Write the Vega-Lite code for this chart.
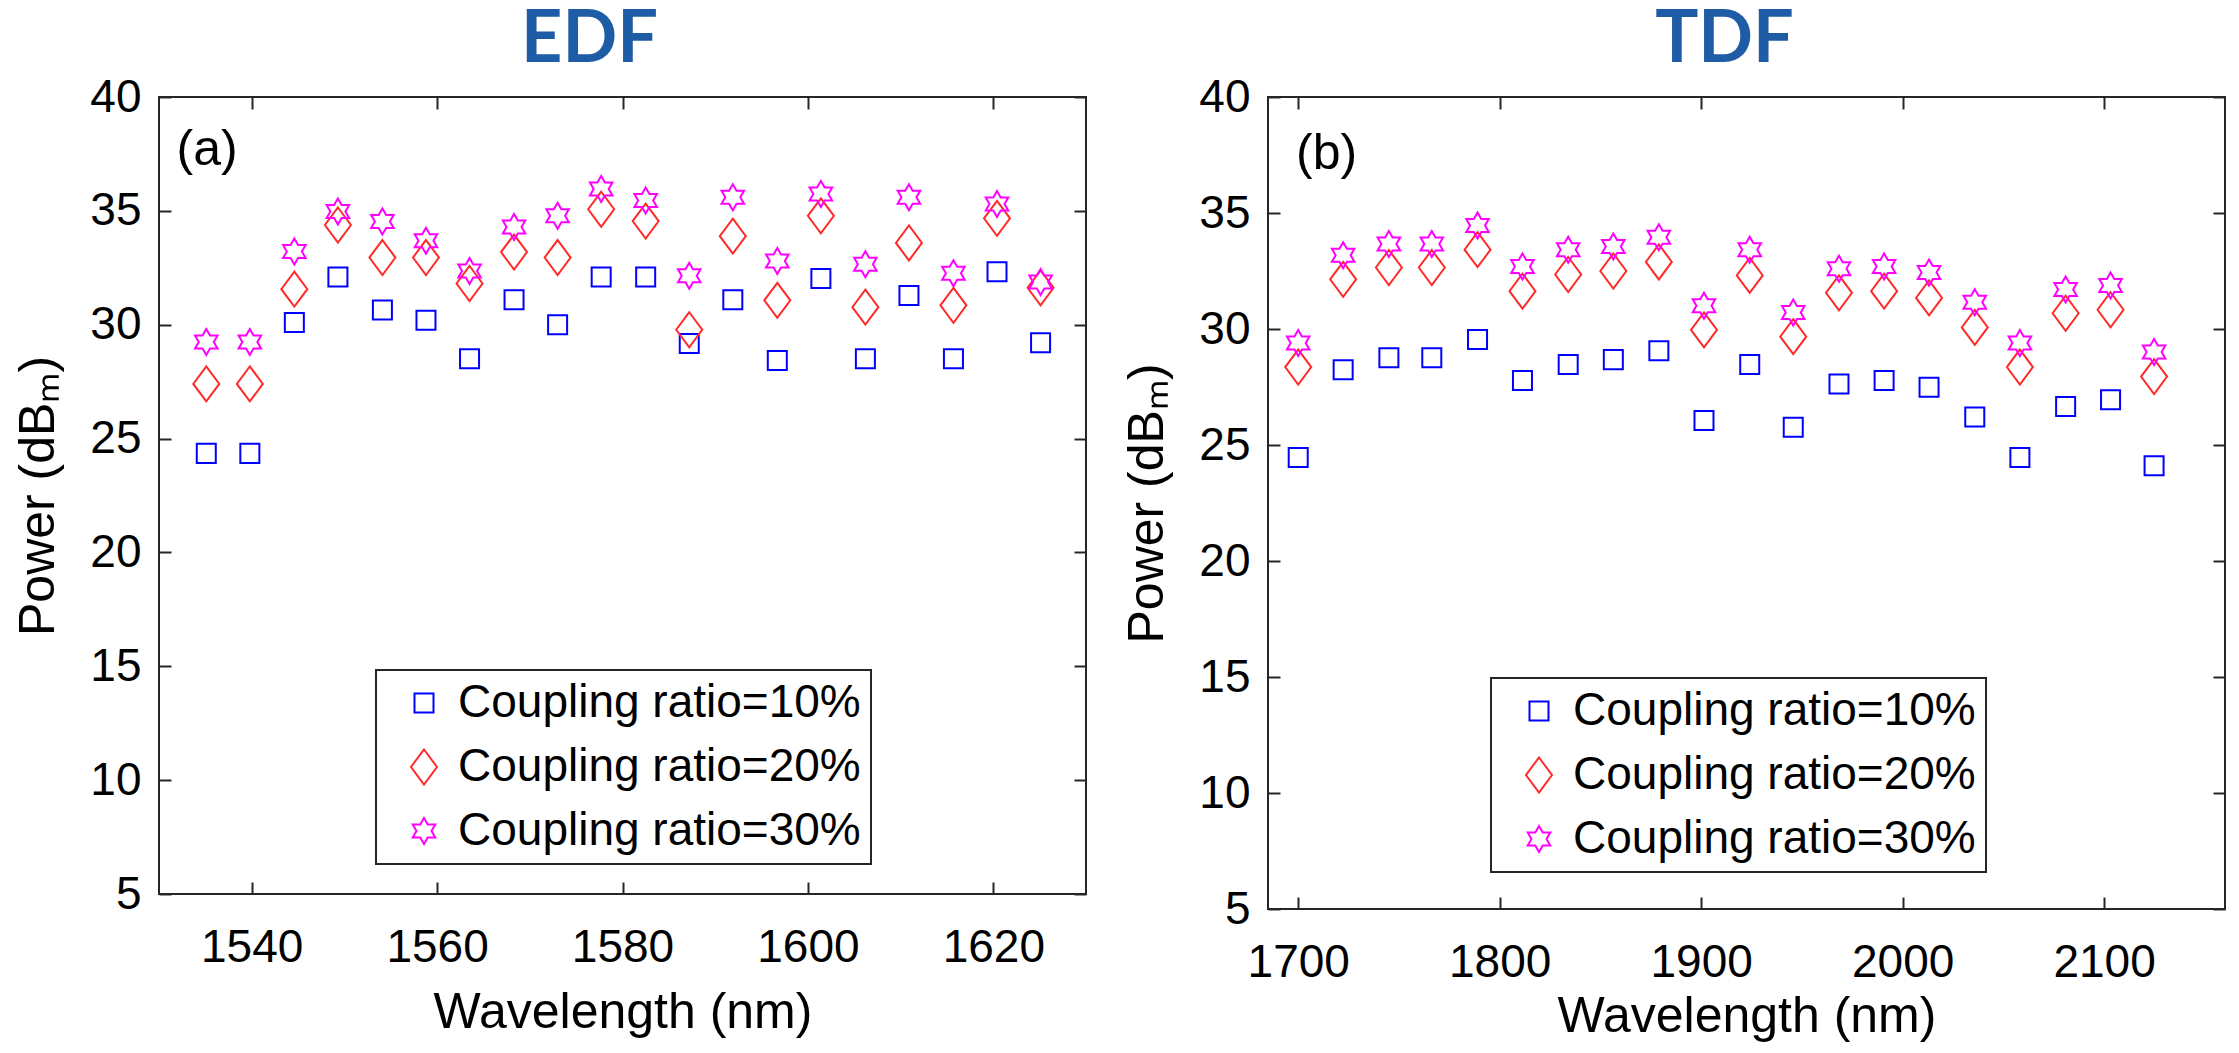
{
  "$schema": "https://vega.github.io/schema/vega-lite/v6.json",
  "background": "white",
  "padding": {"left": 12, "top": 2, "right": 4, "bottom": 0},
  "spacing": 33,
  "config": {
    "font": "Liberation Sans",
    "view": {"stroke": "#262626", "strokeWidth": 2},
    "axis": {
      "grid": false,
      "domain": false,
      "offset": -12,
      "tickSize": 12,
      "tickWidth": 2,
      "tickColor": "#262626",
      "labelFont": "Liberation Sans",
      "labelFontSize": 46,
      "labelColor": "black",
      "labelOverlap": false,
      "labelFlush": false,
      "titleFont": "Liberation Sans",
      "titleFontSize": 50,
      "titleFontWeight": "normal",
      "titleColor": "black"
    },
    "axisX": {"labelPadding": 31, "titlePadding": 17, "format": "d"},
    "axisY": {"labelPadding": 18, "titlePadding": 26},
    "legend": {"strokeWidth": 2},
    "title": {"font": "Lato", "fontSize": 72, "fontWeight": "bold", "color": "#1f5ca6", "anchor": "middle", "baseline": "alphabetic"}
  },
  "datasets": {
    "edf": [
      {"wl": 1535.1, "p": 24.35, "s": "Coupling ratio=10%"},
      {"wl": 1539.8, "p": 24.35, "s": "Coupling ratio=10%"},
      {"wl": 1544.6, "p": 30.1, "s": "Coupling ratio=10%"},
      {"wl": 1549.3, "p": 32.1, "s": "Coupling ratio=10%"},
      {"wl": 1554.1, "p": 30.65, "s": "Coupling ratio=10%"},
      {"wl": 1558.8, "p": 30.2, "s": "Coupling ratio=10%"},
      {"wl": 1563.5, "p": 28.5, "s": "Coupling ratio=10%"},
      {"wl": 1568.3, "p": 31.1, "s": "Coupling ratio=10%"},
      {"wl": 1573.0, "p": 30.0, "s": "Coupling ratio=10%"},
      {"wl": 1577.7, "p": 32.1, "s": "Coupling ratio=10%"},
      {"wl": 1582.5, "p": 32.1, "s": "Coupling ratio=10%"},
      {"wl": 1587.2, "p": 29.18, "s": "Coupling ratio=10%"},
      {"wl": 1591.9, "p": 31.1, "s": "Coupling ratio=10%"},
      {"wl": 1596.7, "p": 28.43, "s": "Coupling ratio=10%"},
      {"wl": 1601.4, "p": 32.03, "s": "Coupling ratio=10%"},
      {"wl": 1606.2, "p": 28.5, "s": "Coupling ratio=10%"},
      {"wl": 1610.9, "p": 31.28, "s": "Coupling ratio=10%"},
      {"wl": 1615.7, "p": 28.5, "s": "Coupling ratio=10%"},
      {"wl": 1620.4, "p": 32.33, "s": "Coupling ratio=10%"},
      {"wl": 1625.1, "p": 29.21, "s": "Coupling ratio=10%"},
      {"wl": 1535.1, "p": 27.4, "s": "Coupling ratio=20%"},
      {"wl": 1539.8, "p": 27.4, "s": "Coupling ratio=20%"},
      {"wl": 1544.6, "p": 31.56, "s": "Coupling ratio=20%"},
      {"wl": 1549.3, "p": 34.38, "s": "Coupling ratio=20%"},
      {"wl": 1554.1, "p": 32.95, "s": "Coupling ratio=20%"},
      {"wl": 1558.8, "p": 32.95, "s": "Coupling ratio=20%"},
      {"wl": 1563.5, "p": 31.81, "s": "Coupling ratio=20%"},
      {"wl": 1568.3, "p": 33.19, "s": "Coupling ratio=20%"},
      {"wl": 1573.0, "p": 32.95, "s": "Coupling ratio=20%"},
      {"wl": 1577.7, "p": 35.07, "s": "Coupling ratio=20%"},
      {"wl": 1582.5, "p": 34.55, "s": "Coupling ratio=20%"},
      {"wl": 1587.2, "p": 29.78, "s": "Coupling ratio=20%"},
      {"wl": 1591.9, "p": 33.89, "s": "Coupling ratio=20%"},
      {"wl": 1596.7, "p": 31.07, "s": "Coupling ratio=20%"},
      {"wl": 1601.4, "p": 34.78, "s": "Coupling ratio=20%"},
      {"wl": 1606.2, "p": 30.77, "s": "Coupling ratio=20%"},
      {"wl": 1610.9, "p": 33.59, "s": "Coupling ratio=20%"},
      {"wl": 1615.7, "p": 30.85, "s": "Coupling ratio=20%"},
      {"wl": 1620.4, "p": 34.67, "s": "Coupling ratio=20%"},
      {"wl": 1625.1, "p": 31.62, "s": "Coupling ratio=20%"},
      {"wl": 1535.1, "p": 29.24, "s": "Coupling ratio=30%"},
      {"wl": 1539.8, "p": 29.24, "s": "Coupling ratio=30%"},
      {"wl": 1544.6, "p": 33.22, "s": "Coupling ratio=30%"},
      {"wl": 1549.3, "p": 34.97, "s": "Coupling ratio=30%"},
      {"wl": 1554.1, "p": 34.53, "s": "Coupling ratio=30%"},
      {"wl": 1558.8, "p": 33.69, "s": "Coupling ratio=30%"},
      {"wl": 1563.5, "p": 32.36, "s": "Coupling ratio=30%"},
      {"wl": 1568.3, "p": 34.29, "s": "Coupling ratio=30%"},
      {"wl": 1573.0, "p": 34.78, "s": "Coupling ratio=30%"},
      {"wl": 1577.7, "p": 35.96, "s": "Coupling ratio=30%"},
      {"wl": 1582.5, "p": 35.45, "s": "Coupling ratio=30%"},
      {"wl": 1587.2, "p": 32.15, "s": "Coupling ratio=30%"},
      {"wl": 1591.9, "p": 35.6, "s": "Coupling ratio=30%"},
      {"wl": 1596.7, "p": 32.8, "s": "Coupling ratio=30%"},
      {"wl": 1601.4, "p": 35.74, "s": "Coupling ratio=30%"},
      {"wl": 1606.2, "p": 32.66, "s": "Coupling ratio=30%"},
      {"wl": 1610.9, "p": 35.6, "s": "Coupling ratio=30%"},
      {"wl": 1615.7, "p": 32.26, "s": "Coupling ratio=30%"},
      {"wl": 1620.4, "p": 35.3, "s": "Coupling ratio=30%"},
      {"wl": 1625.1, "p": 31.88, "s": "Coupling ratio=30%"}
    ],
    "tdf": [
      {"wl": 1700.0, "p": 24.46, "s": "Coupling ratio=10%"},
      {"wl": 1722.3, "p": 28.24, "s": "Coupling ratio=10%"},
      {"wl": 1745.0, "p": 28.76, "s": "Coupling ratio=10%"},
      {"wl": 1766.3, "p": 28.76, "s": "Coupling ratio=10%"},
      {"wl": 1789.0, "p": 29.55, "s": "Coupling ratio=10%"},
      {"wl": 1811.3, "p": 27.78, "s": "Coupling ratio=10%"},
      {"wl": 1834.0, "p": 28.47, "s": "Coupling ratio=10%"},
      {"wl": 1856.4, "p": 28.68, "s": "Coupling ratio=10%"},
      {"wl": 1879.0, "p": 29.06, "s": "Coupling ratio=10%"},
      {"wl": 1901.4, "p": 26.06, "s": "Coupling ratio=10%"},
      {"wl": 1924.1, "p": 28.47, "s": "Coupling ratio=10%"},
      {"wl": 1945.7, "p": 25.77, "s": "Coupling ratio=10%"},
      {"wl": 1968.4, "p": 27.63, "s": "Coupling ratio=10%"},
      {"wl": 1990.8, "p": 27.78, "s": "Coupling ratio=10%"},
      {"wl": 2013.1, "p": 27.49, "s": "Coupling ratio=10%"},
      {"wl": 2035.8, "p": 26.21, "s": "Coupling ratio=10%"},
      {"wl": 2058.2, "p": 24.46, "s": "Coupling ratio=10%"},
      {"wl": 2080.9, "p": 26.66, "s": "Coupling ratio=10%"},
      {"wl": 2103.2, "p": 26.95, "s": "Coupling ratio=10%"},
      {"wl": 2124.8, "p": 24.11, "s": "Coupling ratio=10%"},
      {"wl": 1700.0, "p": 28.36, "s": "Coupling ratio=20%"},
      {"wl": 1722.3, "p": 32.14, "s": "Coupling ratio=20%"},
      {"wl": 1745.0, "p": 32.65, "s": "Coupling ratio=20%"},
      {"wl": 1766.3, "p": 32.65, "s": "Coupling ratio=20%"},
      {"wl": 1789.0, "p": 33.42, "s": "Coupling ratio=20%"},
      {"wl": 1811.3, "p": 31.63, "s": "Coupling ratio=20%"},
      {"wl": 1834.0, "p": 32.35, "s": "Coupling ratio=20%"},
      {"wl": 1856.4, "p": 32.5, "s": "Coupling ratio=20%"},
      {"wl": 1879.0, "p": 32.89, "s": "Coupling ratio=20%"},
      {"wl": 1901.4, "p": 29.96, "s": "Coupling ratio=20%"},
      {"wl": 1924.1, "p": 32.31, "s": "Coupling ratio=20%"},
      {"wl": 1945.7, "p": 29.67, "s": "Coupling ratio=20%"},
      {"wl": 1968.4, "p": 31.56, "s": "Coupling ratio=20%"},
      {"wl": 1990.8, "p": 31.63, "s": "Coupling ratio=20%"},
      {"wl": 2013.1, "p": 31.34, "s": "Coupling ratio=20%"},
      {"wl": 2035.8, "p": 30.07, "s": "Coupling ratio=20%"},
      {"wl": 2058.2, "p": 28.36, "s": "Coupling ratio=20%"},
      {"wl": 2080.9, "p": 30.68, "s": "Coupling ratio=20%"},
      {"wl": 2103.2, "p": 30.83, "s": "Coupling ratio=20%"},
      {"wl": 2124.8, "p": 27.95, "s": "Coupling ratio=20%"},
      {"wl": 1700.0, "p": 29.4, "s": "Coupling ratio=30%"},
      {"wl": 1722.3, "p": 33.18, "s": "Coupling ratio=30%"},
      {"wl": 1745.0, "p": 33.66, "s": "Coupling ratio=30%"},
      {"wl": 1766.3, "p": 33.66, "s": "Coupling ratio=30%"},
      {"wl": 1789.0, "p": 34.46, "s": "Coupling ratio=30%"},
      {"wl": 1811.3, "p": 32.69, "s": "Coupling ratio=30%"},
      {"wl": 1834.0, "p": 33.42, "s": "Coupling ratio=30%"},
      {"wl": 1856.4, "p": 33.56, "s": "Coupling ratio=30%"},
      {"wl": 1879.0, "p": 33.95, "s": "Coupling ratio=30%"},
      {"wl": 1901.4, "p": 31.0, "s": "Coupling ratio=30%"},
      {"wl": 1924.1, "p": 33.42, "s": "Coupling ratio=30%"},
      {"wl": 1945.7, "p": 30.71, "s": "Coupling ratio=30%"},
      {"wl": 1968.4, "p": 32.6, "s": "Coupling ratio=30%"},
      {"wl": 1990.8, "p": 32.69, "s": "Coupling ratio=30%"},
      {"wl": 2013.1, "p": 32.43, "s": "Coupling ratio=30%"},
      {"wl": 2035.8, "p": 31.15, "s": "Coupling ratio=30%"},
      {"wl": 2058.2, "p": 29.4, "s": "Coupling ratio=30%"},
      {"wl": 2080.9, "p": 31.7, "s": "Coupling ratio=30%"},
      {"wl": 2103.2, "p": 31.88, "s": "Coupling ratio=30%"},
      {"wl": 2124.8, "p": 29.01, "s": "Coupling ratio=30%"}
    ]
  },
  "resolve": {
    "scale": {"x": "independent", "y": "independent", "color": "independent", "shape": "independent"},
    "legend": {"color": "independent", "shape": "independent"}
  },
  "hconcat": [
    {
      "width": 927,
      "height": 797,
      "title": {"text": "EDF", "dx": -33, "offset": -2.5},
      "resolve": {"axis": {"x": "independent", "y": "independent"}},
      "layer": [
        {
          "data": {"name": "edf"},
          "mark": {"type": "point", "filled": false, "strokeWidth": 2, "size": 1225, "opacity": 1},
          "encoding": {
            "x": {"field": "wl", "type": "quantitative", "scale": {"domain": [1530, 1630], "nice": false, "zero": false}, "axis": {"orient": "bottom", "values": [1540, 1560, 1580, 1600, 1620], "title": "Wavelength (nm)"}},
            "y": {"field": "p", "type": "quantitative", "scale": {"domain": [5, 40], "nice": false, "zero": false}, "axis": {"orient": "left", "values": [5, 10, 15, 20, 25, 30, 35, 40], "title": "Power (dBₘ)"}},
            "color": {"field": "s", "type": "nominal", "scale": {"range": ["#0000ff", "#ff2b2b", "#ff00ff"]},
              "legend": {"title": null, "orient": "none", "legendX": 217, "legendY": 573, "symbolSize": 1225, "symbolStrokeWidth": 2, "labelFontSize": 46, "labelFont": "Liberation Sans", "labelColor": "black", "padding": 10, "rowPadding": 18, "symbolOffset": 15, "labelOffset": 11, "strokeColor": "#262626", "fillColor": "white", "labelLimit": 1000}},
            "shape": {"field": "s", "type": "nominal", "scale": {"range": [
              "M-0.543,-0.543L0.543,-0.543L0.543,0.543L-0.543,0.543Z",
              "M0,-1L0.743,0L0,1L-0.743,0Z",
              "M0,-0.743L0.2145,-0.3715L0.6435,-0.3715L0.429,0L0.6435,0.3715L0.2145,0.3715L0,0.743L-0.2145,0.3715L-0.6435,0.3715L-0.429,0L-0.6435,-0.3715L-0.2145,-0.3715Z"]},
              "legend": {"title": null, "orient": "none", "legendX": 217, "legendY": 573, "symbolSize": 1225, "symbolStrokeWidth": 2, "labelFontSize": 46, "labelFont": "Liberation Sans", "labelColor": "black", "padding": 10, "rowPadding": 18, "symbolOffset": 15, "labelOffset": 11, "strokeColor": "#262626", "fillColor": "white", "labelLimit": 1000}}
          }
        },
        {
          "data": {"values": [{"wl": 1531.9, "p": 37.67, "t": "(a)"}]},
          "mark": {"type": "text", "align": "left", "baseline": "middle", "font": "Liberation Sans", "fontSize": 50, "color": "black"},
          "encoding": {
            "x": {"field": "wl", "type": "quantitative", "axis": {"orient": "top", "values": [1540, 1560, 1580, 1600, 1620], "labels": false, "title": null}},
            "y": {"field": "p", "type": "quantitative", "axis": {"orient": "right", "values": [5, 10, 15, 20, 25, 30, 35, 40], "labels": false, "title": null}},
            "text": {"field": "t"}
          }
        }
      ]
    },
    {
      "width": 957,
      "height": 812,
      "title": {"text": "TDF", "dx": -22, "offset": -2.5},
      "resolve": {"axis": {"x": "independent", "y": "independent"}},
      "layer": [
        {
          "data": {"name": "tdf"},
          "mark": {"type": "point", "filled": false, "strokeWidth": 2, "size": 1225, "opacity": 1},
          "encoding": {
            "x": {"field": "wl", "type": "quantitative", "scale": {"domain": [1685, 2160], "nice": false, "zero": false}, "axis": {"orient": "bottom", "values": [1700, 1800, 1900, 2000, 2100], "title": "Wavelength (nm)", "titlePadding": 6}},
            "y": {"field": "p", "type": "quantitative", "scale": {"domain": [5, 40], "nice": false, "zero": false}, "axis": {"orient": "left", "values": [5, 10, 15, 20, 25, 30, 35, 40], "title": "Power (dBₘ)"}},
            "color": {"field": "s", "type": "nominal", "scale": {"range": ["#0000ff", "#ff2b2b", "#ff00ff"]},
              "legend": {"title": null, "orient": "none", "legendX": 223, "legendY": 581, "symbolSize": 1225, "symbolStrokeWidth": 2, "labelFontSize": 46, "labelFont": "Liberation Sans", "labelColor": "black", "padding": 10, "rowPadding": 18, "symbolOffset": 15, "labelOffset": 11, "strokeColor": "#262626", "fillColor": "white", "labelLimit": 1000}},
            "shape": {"field": "s", "type": "nominal", "scale": {"range": [
              "M-0.543,-0.543L0.543,-0.543L0.543,0.543L-0.543,0.543Z",
              "M0,-1L0.743,0L0,1L-0.743,0Z",
              "M0,-0.743L0.2145,-0.3715L0.6435,-0.3715L0.429,0L0.6435,0.3715L0.2145,0.3715L0,0.743L-0.2145,0.3715L-0.6435,0.3715L-0.429,0L-0.6435,-0.3715L-0.2145,-0.3715Z"]},
              "legend": {"title": null, "orient": "none", "legendX": 223, "legendY": 581, "symbolSize": 1225, "symbolStrokeWidth": 2, "labelFontSize": 46, "labelFont": "Liberation Sans", "labelColor": "black", "padding": 10, "rowPadding": 18, "symbolOffset": 15, "labelOffset": 11, "strokeColor": "#262626", "fillColor": "white", "labelLimit": 1000}}
          }
        },
        {
          "data": {"values": [{"wl": 1698.9, "p": 37.54, "t": "(b)"}]},
          "mark": {"type": "text", "align": "left", "baseline": "middle", "font": "Liberation Sans", "fontSize": 50, "color": "black"},
          "encoding": {
            "x": {"field": "wl", "type": "quantitative", "axis": {"orient": "top", "values": [1700, 1800, 1900, 2000, 2100], "labels": false, "title": null}},
            "y": {"field": "p", "type": "quantitative", "axis": {"orient": "right", "values": [5, 10, 15, 20, 25, 30, 35, 40], "labels": false, "title": null}},
            "text": {"field": "t"}
          }
        }
      ]
    }
  ]
}
